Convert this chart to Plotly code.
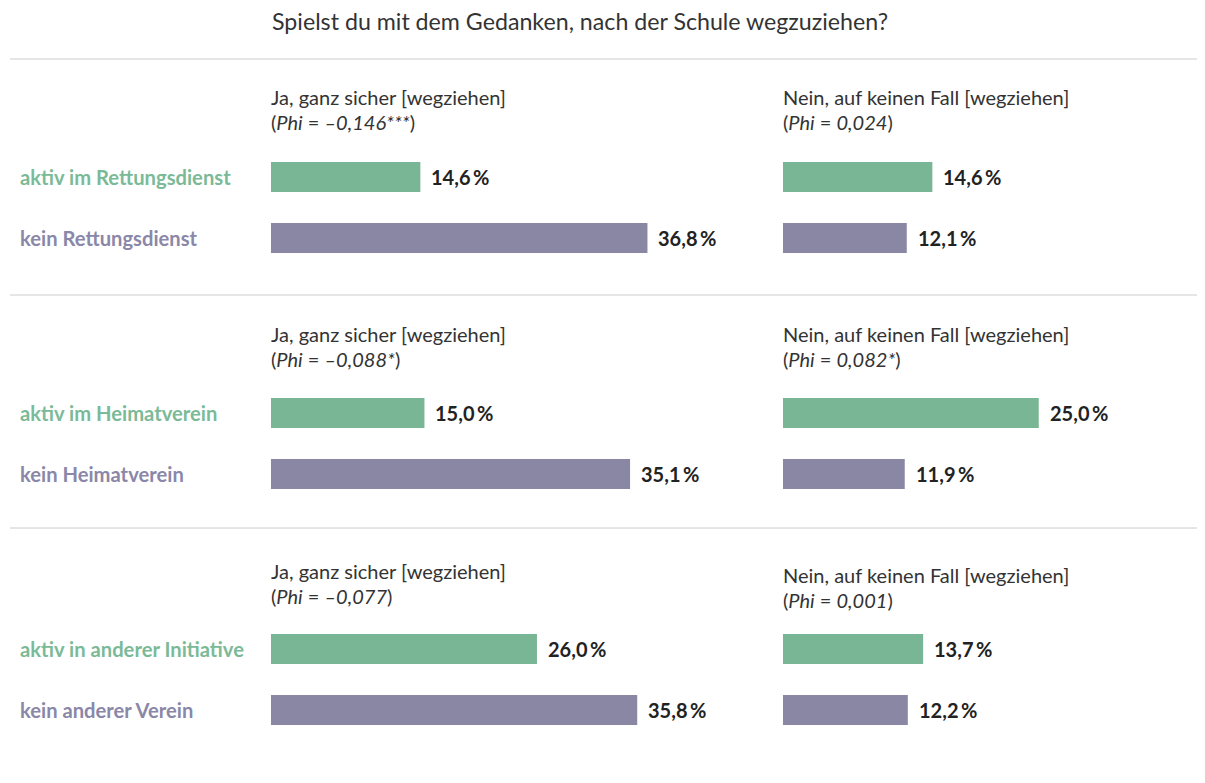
import plotly.graph_objects as go
from plotly.subplots import make_subplots

title = "Spielst du mit dem Gedanken, nach der Schule wegzuziehen?"
header_ja = "Ja, ganz sicher [wegziehen]"
header_nein = "Nein, auf keinen Fall [wegziehen]"

groups_active = ["aktiv im Rettungsdienst", "aktiv im Heimatverein", "aktiv in anderer Initiative"]
groups_none = ["kein Rettungsdienst", "kein Heimatverein", "kein anderer Verein"]

ja_active = [14.6, 15.0, 26.0]
ja_none = [36.8, 35.1, 35.8]
nein_active = [14.6, 25.0, 13.7]
nein_none = [12.1, 11.9, 12.2]

phi_ja = ["–0,146***", "–0,088*", "–0,077"]
phi_nein = ["0,024", "0,082*", "0,001"]

GREEN = "#79B695"
PURPLE = "#8A87A5"
GREEN_TXT = "#7BBA97"
PURPLE_TXT = "#8A87A8"
DARK = "#333333"
FONT = "Lato"

# page puts the figure at an 8px offset
OFF = 8
W, H = 1205 - OFF, 783 - OFF
PX_PER_PCT = 10.23


def py(px):
    return 1 - (px - OFF) / H


def px_x(px):
    return (px - OFF) / W


fig = make_subplots(rows=3, cols=2)

columns = [(ja_active, ja_none), (nein_active, nein_none)]
annotations = []

for i in range(3):
    top = 146.5 + 236 * i
    for j, (act, non) in enumerate(columns):
        idx = i * 2 + j + 1
        xref = "x" if idx == 1 else f"x{idx}"
        yref = "y" if idx == 1 else f"y{idx}"
        cats = [groups_active[i], groups_none[i]]
        vals = [act[i], non[i]]
        fig.add_trace(
            go.Bar(
                x=vals, y=cats, orientation="h", width=0.49,
                marker=dict(color=[GREEN, PURPLE], line=dict(width=0)),
                hoverinfo="skip",
            ),
            row=i + 1, col=j + 1,
        )
        # value labels
        for c, v in zip(cats, vals):
            annotations.append(dict(
                x=v, y=c, xref=xref, yref=yref, xanchor="left", yanchor="middle",
                xshift=9, showarrow=False,
                text="<b>" + f"{v:.1f}".replace(".", ",") + "\u2009%</b>",
                font=dict(family=FONT, size=20, color="#222222"),
            ))
        if j == 0:
            # category labels on the left
            for c, col in zip(cats, [GREEN_TXT, PURPLE_TXT]):
                annotations.append(dict(
                    x=px_x(18), y=c, xref="paper", yref=yref, xanchor="left",
                    yanchor="middle", showarrow=False,
                    text=f"<b>{c}</b>", font=dict(family=FONT, size=20.2, color=col),
                ))
        if j == 0:
            fig.update_xaxes(domain=[px_x(271), px_x(760)], range=[0, 489 / PX_PER_PCT],
                             row=i + 1, col=j + 1)
        else:
            fig.update_xaxes(domain=[px_x(783), 1.0], range=[0, 422 / PX_PER_PCT],
                             row=i + 1, col=j + 1)
        fig.update_yaxes(domain=[py(top + 122), py(top)], range=[1.5, -0.5],
                         row=i + 1, col=j + 1)

    # headers
    hy = 97 + 237 * i
    for j, (head, phi) in enumerate([(header_ja, phi_ja[i]), (header_nein, phi_nein[i])]):
        x0 = 269 if j == 0 else 781
        off = 4 if (i == 2 and j == 1) else 0
        annotations.append(dict(
            x=px_x(x0), y=py(hy + off), xref="paper", yref="paper", xanchor="left",
            yanchor="middle", showarrow=False, text=head,
            font=dict(family=FONT, size=20, color=DARK),
        ))
        annotations.append(dict(
            x=px_x(x0), y=py(hy + 25 + off), xref="paper", yref="paper", xanchor="left",
            yanchor="middle", showarrow=False, text=f"(<i>Phi</i> = <i>{phi}</i>)",
            font=dict(family=FONT, size=20, color=DARK),
        ))

# title
annotations.append(dict(
    x=px_x(270), y=py(21), xref="paper", yref="paper", xanchor="left", yanchor="middle",
    showarrow=False, text=title, font=dict(family=FONT, size=23.2, color=DARK),
))

shapes = []
for ly in [59, 295, 528]:
    shapes.append(dict(type="line", xref="paper", yref="paper",
                       x0=px_x(10), x1=px_x(1203), y0=py(ly), y1=py(ly),
                       line=dict(color="#CCCCCC", width=1)))

fig.update_xaxes(visible=False, fixedrange=True)
fig.update_yaxes(visible=False, fixedrange=True)

fig.update_layout(
    width=W, height=H,
    margin=dict(l=0, r=0, t=0, b=0),
    paper_bgcolor="white", plot_bgcolor="white",
    showlegend=False,
    annotations=annotations,
    shapes=shapes,
    font=dict(family=FONT),
)

fig.write_html("out.html")
